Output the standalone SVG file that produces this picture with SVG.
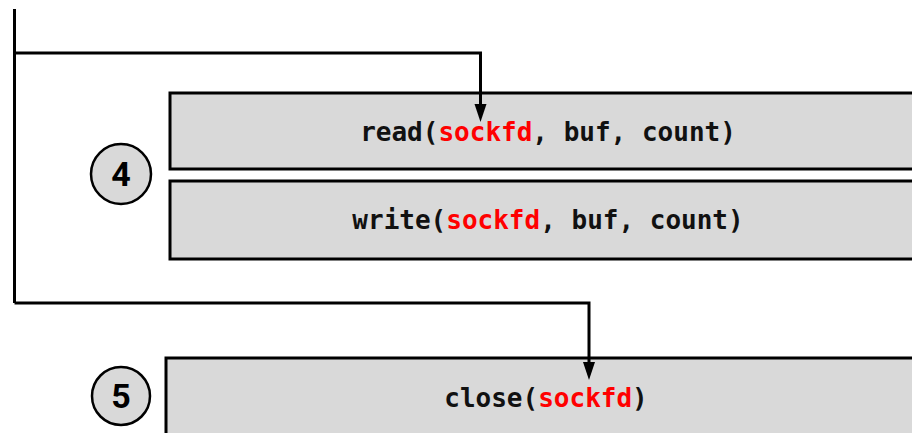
<svg xmlns="http://www.w3.org/2000/svg" width="912" height="433" viewBox="0 0 912 433">
<style>
.box{fill:#d9d9d9;stroke:#000;stroke-width:3}
.circ{fill:#d9d9d9;stroke:#000;stroke-width:2.5}
.num{font-family:"Roboto","Liberation Sans",sans-serif;font-weight:bold;font-size:34px;text-anchor:middle;fill:#000}
.code{font-family:"DejaVu Sans Mono","Liberation Mono",monospace;font-weight:bold;font-size:26px;text-anchor:middle;fill:#111}
.red{fill:#f00}
.wire{fill:none;stroke:#000;stroke-width:3}
</style>
<defs>
<marker id="ah" markerWidth="12" markerHeight="18" refX="6" refY="18" orient="auto-start-reverse" markerUnits="userSpaceOnUse" viewBox="0 0 12 18">
<path d="M0,0 L12,0 L6,18 Z" fill="#000" transform="rotate(0)"/>
</marker>
</defs>
<g id="node-read">
<rect class="box" x="170" y="93" width="760" height="76"/>
<text class="code" x="548" y="141">read(<tspan class="red">sockfd</tspan>, buf, count)</text>
</g>
<g id="node-write">
<rect class="box" x="170" y="181" width="760" height="78"/>
<text class="code" x="548" y="229">write(<tspan class="red">sockfd</tspan>, buf, count)</text>
</g>
<g id="node-close">
<rect class="box" x="166" y="358" width="760" height="90"/>
<text class="code" x="546" y="407">close(<tspan class="red">sockfd</tspan>)</text>
</g>
<g id="step-4">
<circle class="circ" cx="121" cy="174" r="30"/>
<text class="num" x="121" y="186">4</text>
</g>
<g id="step-5">
<circle class="circ" cx="121" cy="396" r="29"/>
<text class="num" x="121" y="408">5</text>
</g>
<g id="connectors">
<path class="wire" d="M14.5,9 V303"/>
<path class="wire" d="M14.5,53 H480.5 V104"/>
<path d="M474.5,104 H486.5 L480.5,122 Z" fill="#000"/>
<path class="wire" d="M14.5,303 H589 V362"/>
<path d="M583,362 H595 L589,380 Z" fill="#000"/>
</g>
</svg>
